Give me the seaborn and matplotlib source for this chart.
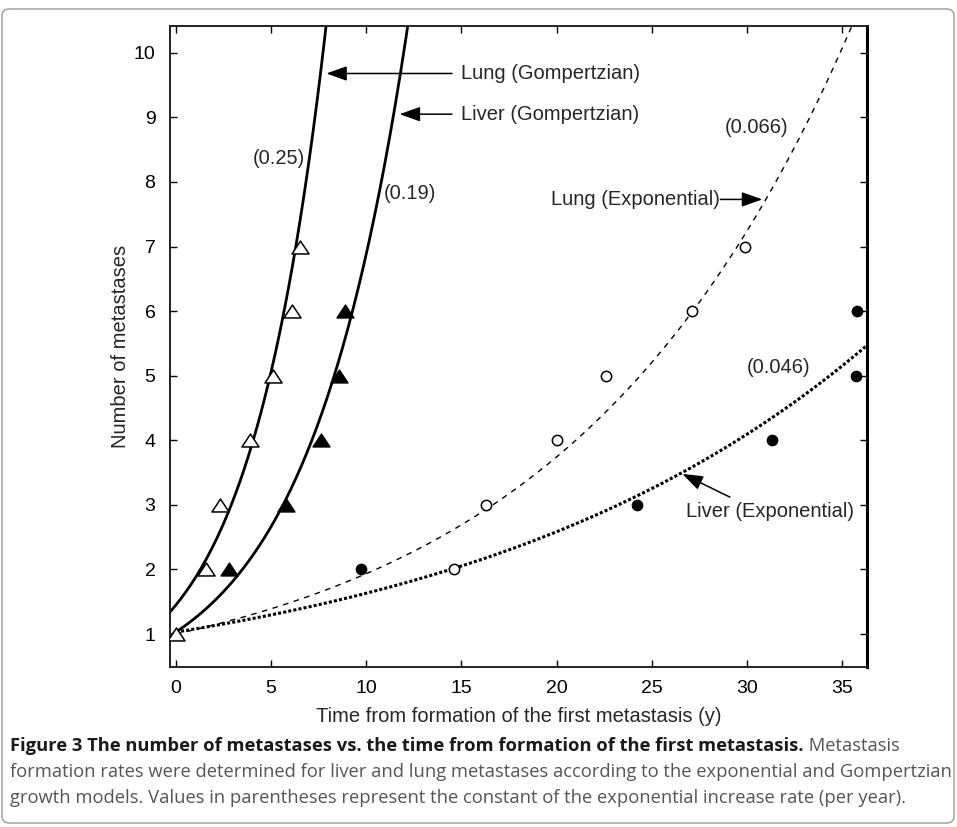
import numpy as np
import pandas as pd
import matplotlib
matplotlib.use("Agg")
import matplotlib.pyplot as plt
import seaborn as sns
from matplotlib import font_manager
from matplotlib.patches import FancyBboxPatch
from matplotlib.path import Path

# ---------------- data ----------------
lung_gomp_x = [0.0, 1.6, 2.3, 3.9, 5.1, 6.1, 6.5]
lung_gomp_y = [1, 2, 3, 4, 5, 6, 7]
liver_gomp_x = [2.8, 5.8, 7.6, 8.55, 8.9]
liver_gomp_y = [2, 3, 4, 5, 6]
lung_exp_x = [14.6, 16.3, 20.0, 22.6, 27.1, 29.9]
lung_exp_y = [2, 3, 4, 5, 6, 7]
liver_exp_x = [9.7, 24.2, 31.3, 35.7, 35.8]
liver_exp_y = [2, 3, 4, 5, 6]

# fitted model curves: name, starting value, exponential rate constant
model_names = ["Lung (Gompertzian)", "Liver (Gompertzian)",
               "Lung (Exponential)", "Liver (Exponential)"]
model_start = [1.45, 1.03, 1.0, 1.03]
model_rate = [0.25, 0.19, 0.066, 0.046]
model_x0 = [-0.31, -0.31, 0.0, 0.0]
rate_labels = ["(0.25)", "(0.19)", "(0.066)", "(0.046)"]

x_ticks = [0, 5, 10, 15, 20, 25, 30, 35]
y_ticks = [1, 2, 3, 4, 5, 6, 7, 8, 9, 10]
x_label = "Time from formation of the first metastasis (y)"
y_label = "Number of metastases"

caption_bold = "Figure 3 The number of metastases vs. the time from formation of the first metastasis."
caption_l1 = " Metastasis"
caption_l2 = "formation rates were determined for liver and lung metastases according to the exponential and Gompertzian"
caption_l3 = "growth models. Values in parentheses represent the constant of the exponential increase rate (per year)."

# ---------------- style ----------------
sns.set_style("ticks")
plt.rcParams["font.family"] = ["Liberation Sans", "DejaVu Sans"]

W, H = 957, 827
fig = plt.figure(figsize=(W / 100, H / 100), dpi=100)
ax = fig.add_axes([170 / W, 1 - 666.7 / H, 697 / W, 641 / H])

XMIN, XMAX = -0.31, 36.3
YMIN, YMAX = 0.494, 10.42

# model curves
styles = [
    dict(lw=2.0, linestyle="-"),
    dict(lw=2.0, linestyle="-"),
    dict(lw=1.0, linestyle=(0, (4, 4))),
    dict(lw=2.2, linestyle=(0, (1.0, 0.7))),
]
for name, a0, r, x0, st in zip(model_names, model_start, model_rate, model_x0, styles):
    xs = np.linspace(x0, XMAX, 400)
    ys = a0 * np.exp(r * xs)
    df = pd.DataFrame({"x": xs, "y": ys})
    sns.lineplot(data=df, x="x", y="y", ax=ax, color="black", sort=False,
                 estimator=None, **st)

# markers
tri = Path([(0, 0.76), (-1, -0.76), (1, -0.76), (0, 0.76)],
           [Path.MOVETO, Path.LINETO, Path.LINETO, Path.CLOSEPOLY])
sns.scatterplot(x=liver_gomp_x, y=liver_gomp_y, ax=ax, marker=tri, s=150,
                color="black", edgecolor="black", linewidth=1.0, zorder=5)
sns.scatterplot(x=lung_gomp_x, y=lung_gomp_y, ax=ax, marker=tri, s=150,
                facecolor="white", edgecolor="black", linewidth=1.1, zorder=5)
sns.scatterplot(x=lung_exp_x, y=lung_exp_y, ax=ax, marker="o", s=55,
                facecolor="white", edgecolor="black", linewidth=1.1, zorder=5)
sns.scatterplot(x=liver_exp_x, y=liver_exp_y, ax=ax, marker="o", s=55,
                color="black", edgecolor="black", linewidth=1.0, zorder=5)

# axes
ax.set_xlim(XMIN, XMAX)
ax.set_ylim(YMIN, YMAX)
ax.set_xticks(x_ticks)
ax.set_yticks(y_ticks)
ax.set_xticklabels([str(t) for t in x_ticks])
ax.set_yticklabels([str(t) for t in y_ticks])
ax.tick_params(axis="both", direction="in", length=5, width=1.0, colors="black",
               labelsize=14, top=True, right=True, labeltop=False, labelright=False)
ax.tick_params(axis="x", pad=9.5)
ax.tick_params(axis="y", pad=10.5)
for s in ["left", "bottom", "top"]:
    ax.spines[s].set_visible(True)
    ax.spines[s].set_linewidth(1.4)
    ax.spines[s].set_color("#222222")
ax.spines["right"].set_visible(True)
ax.spines["right"].set_linewidth(2.2)
ax.spines["right"].set_color("black")

ax.set_xlabel(x_label, fontsize=14.5)
ax.set_ylabel(y_label, fontsize=14.5)
ax.xaxis.set_label_coords(0.5, -0.063)
ax.yaxis.set_label_coords(-0.057, 0.5)

# annotations
fs = 14.5
arrow = dict(arrowstyle="-|>,head_length=0.7,head_width=0.25", color="black",
             lw=1.1, shrinkA=0, shrinkB=0, mutation_scale=18)
ax.annotate("", xy=(7.9, 9.68), xytext=(14.5, 9.68), arrowprops=arrow)
ax.text(14.95, 9.68, model_names[0], fontsize=fs, ha="left", va="center")
ax.annotate("", xy=(11.75, 9.05), xytext=(14.5, 9.05), arrowprops=arrow)
ax.text(14.95, 9.05, model_names[1], fontsize=fs, ha="left", va="center")
ax.annotate("", xy=(30.8, 7.73), xytext=(28.6, 7.73), arrowprops=arrow)
ax.text(28.55, 7.73, model_names[2], fontsize=fs, ha="right", va="center")
ax.annotate("", xy=(26.6, 3.48), xytext=(29.1, 3.12), arrowprops=arrow)
ax.text(26.8, 2.9, model_names[3], fontsize=fs, ha="left", va="center")

ax.text(5.4, 8.36, rate_labels[0], fontsize=fs, ha="center", va="center")
ax.text(12.27, 7.82, rate_labels[1], fontsize=fs, ha="center", va="center")
ax.text(30.5, 8.85, rate_labels[2], fontsize=fs, ha="center", va="center")
ax.text(31.65, 5.13, rate_labels[3], fontsize=fs, ha="center", va="center")

# figure border
border = FancyBboxPatch((2 / W, 1 - 823 / H), 952 / W, (823 - 9) / H,
                        boxstyle="round,pad=0,rounding_size=0.008",
                        transform=fig.transFigure, facecolor="none",
                        edgecolor="#9a9a9a", lw=1.0)
fig.patches.append(border)

# caption (fit line 2 to the width of the box)
names = {f.name for f in font_manager.fontManager.ttflist}
if "Liberation Sans Narrow" in names:
    cap_font = ["Liberation Sans Narrow", "DejaVu Sans"]
else:
    cap_font = ["Open Sans", "DejaVu Sans"]

fig.canvas.draw()
renderer = fig.canvas.get_renderer()
cfs = 14.0
for _ in range(4):
    probe = fig.text(0, 0.5, caption_l2, fontsize=cfs, family=cap_font)
    wpx = probe.get_window_extent(renderer).width
    probe.remove()
    cfs = cfs * 938 / wpx

x0 = 10 / W
ys = [746, 772, 798]
t1 = fig.text(x0, 1 - ys[0] / H, caption_bold, fontsize=cfs, family=cap_font,
              fontweight="bold", color="#1a1a1a", va="center")
bb = t1.get_window_extent(renderer)
fig.text(bb.x1 / W, 1 - ys[0] / H, caption_l1, fontsize=cfs, family=cap_font,
         color="#555555", va="center")
fig.text(x0, 1 - ys[1] / H, caption_l2, fontsize=cfs, family=cap_font,
         color="#555555", va="center")
fig.text(x0, 1 - ys[2] / H, caption_l3, fontsize=cfs, family=cap_font,
         color="#555555", va="center")

fig.savefig("out.png", dpi=100)
